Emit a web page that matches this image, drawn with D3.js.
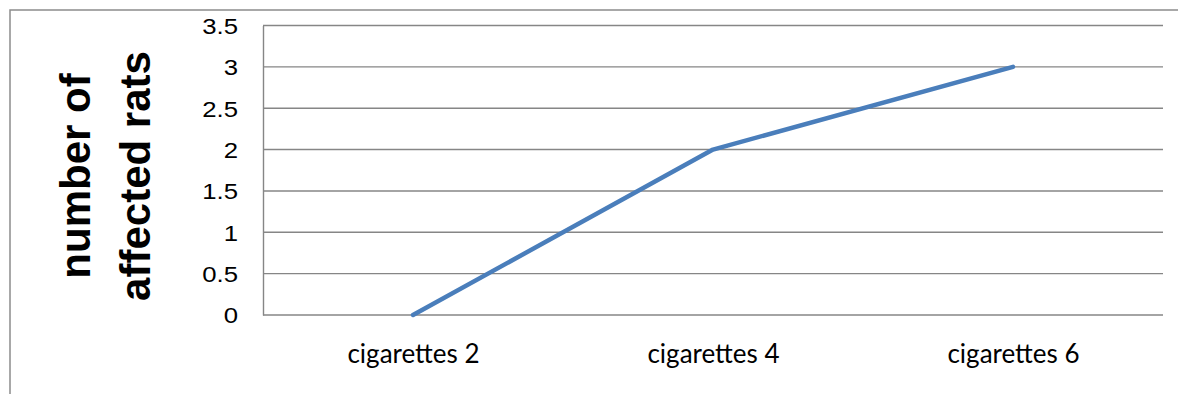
<!DOCTYPE html>
<html><head><meta charset="utf-8">
<script src="https://cdn.jsdelivr.net/npm/d3@7"></script>
<style>html,body{margin:0;padding:0;background:#fff;}svg{display:block;}</style>
</head><body>
<svg id="c" width="1178" height="394"></svg>
<script>
const categories = ["cigarettes 2", "cigarettes 4", "cigarettes 6"];
const values = [0, 2, 3];
const yTicks = [0, 0.5, 1, 1.5, 2, 2.5, 3, 3.5];
const yTitleLines = ["number of", "affected rats"];

const svg = d3.select("#c");
const W = 1178, H = 394;
const plot = {left: 263, right: 1163, top: 25.5, bottom: 315};

// outer chart border
svg.append("rect").attr("x", 10).attr("y", 10).attr("width", W + 20).attr("height", H + 20)
  .attr("fill", "none").attr("stroke", "#8c8c8c").attr("stroke-width", 1.5);

const x = d3.scalePoint().domain(categories).range([plot.left, plot.right]).padding(0.5);
const y = d3.scaleLinear().domain([0, 3.5]).range([plot.bottom, plot.top]);

// gridlines
svg.append("g").selectAll("line").data(yTicks).join("line")
  .attr("x1", plot.left).attr("x2", plot.right)
  .attr("y1", d => y(d)).attr("y2", d => y(d))
  .attr("stroke", "#868686").attr("stroke-width", 1.4);

// y axis
const yAxis = svg.append("g").attr("transform", `translate(${plot.left},0)`)
  .call(d3.axisLeft(y).tickValues(yTicks).tickFormat(d3.format("")).tickSize(0).tickPadding(25));
yAxis.select(".domain").attr("stroke", "#868686").attr("stroke-width", 1.4);
yAxis.selectAll("text").attr("font-family", "'Liberation Sans', Arial, sans-serif")
  .attr("font-size", 22).attr("fill", "#000").attr("dy", "0.36em")
  .each(function() {
    const L = this.getComputedTextLength();
    d3.select(this).attr("textLength", L * 1.17).attr("lengthAdjust", "spacingAndGlyphs");
  });

// x axis
const xAxis = svg.append("g").attr("transform", `translate(0,${plot.bottom})`)
  .call(d3.axisBottom(x).tickSize(0).tickPadding(30));
xAxis.select(".domain").remove();
xAxis.selectAll("text").attr("font-family", "Lato, 'Open Sans', sans-serif")
  .attr("font-size", 26).attr("fill", "#000");

// line
const line = d3.line().x((d, i) => x(categories[i])).y(d => y(d));
svg.append("path").datum(values).attr("d", line)
  .attr("fill", "none").attr("stroke", "#4a7ebb").attr("stroke-width", 4.5)
  .attr("stroke-linejoin", "round").attr("stroke-linecap", "round");

// y title
const t = svg.append("text")
  .attr("transform", "translate(0,176) rotate(-90)")
  .attr("text-anchor", "middle")
  .attr("font-family", "'Liberation Sans', Arial, sans-serif")
  .attr("font-weight", "bold").attr("font-size", 42).attr("fill", "#000");
t.selectAll("tspan").data(yTitleLines).join("tspan")
  .attr("x", 0).attr("y", (d, i) => [90, 150][i]).text(d => d);
</script>
</body></html>
